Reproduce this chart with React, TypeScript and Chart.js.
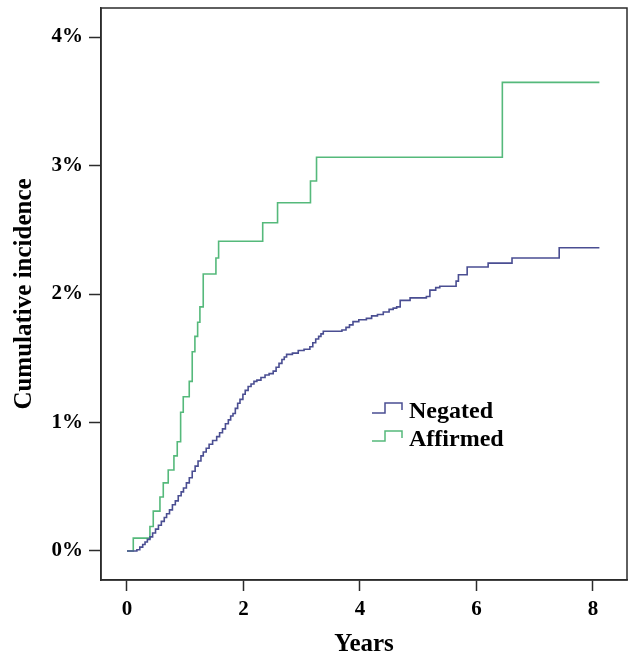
import React, { useEffect, useRef } from "react";
import { Chart, registerables } from "chart.js";

Chart.register(...registerables);

const negatedYears = [0, 0.17, 0.22, 0.27, 0.31, 0.35, 0.395, 0.44, 0.49, 0.54, 0.59, 0.64, 0.68, 0.73, 0.78, 0.83, 0.88, 0.93, 0.97, 1.02, 1.07, 1.12, 1.17, 1.22, 1.27, 1.31, 1.36, 1.41, 1.47, 1.54, 1.59, 1.64, 1.69, 1.74, 1.78, 1.82, 1.86, 1.9, 1.94, 1.99, 2.03, 2.08, 2.13, 2.18, 2.23, 2.3, 2.37, 2.44, 2.51, 2.56, 2.61, 2.66, 2.7, 2.74, 2.84, 2.94, 3.04, 3.14, 3.19, 3.24, 3.29, 3.33, 3.37, 3.69, 3.76, 3.82, 3.88, 3.98, 4.11, 4.2, 4.3, 4.4, 4.5, 4.57, 4.63, 4.69, 4.86, 5.14, 5.2, 5.3, 5.37, 5.65, 5.69, 5.84, 6.2, 6.61, 7.42, 8.11];
const negatedIncidence = [0, 0.01, 0.03, 0.05, 0.07, 0.09, 0.11, 0.14, 0.17, 0.2, 0.23, 0.26, 0.29, 0.32, 0.36, 0.39, 0.43, 0.46, 0.49, 0.53, 0.57, 0.62, 0.66, 0.7, 0.74, 0.77, 0.8, 0.83, 0.86, 0.89, 0.92, 0.95, 0.99, 1.02, 1.05, 1.07, 1.11, 1.15, 1.18, 1.22, 1.25, 1.28, 1.3, 1.32, 1.33, 1.35, 1.37, 1.38, 1.4, 1.43, 1.46, 1.49, 1.51, 1.53, 1.54, 1.56, 1.57, 1.59, 1.62, 1.65, 1.67, 1.69, 1.71, 1.72, 1.74, 1.76, 1.785, 1.8, 1.81, 1.83, 1.84, 1.86, 1.88, 1.89, 1.9, 1.95, 1.97, 1.98, 2.03, 2.05, 2.06, 2.1, 2.15, 2.21, 2.24, 2.28, 2.36, 2.36];

const affirmedYears = [0, 0.108, 0.394, 0.451, 0.566, 0.623, 0.708, 0.806, 0.863, 0.921, 0.966, 1.069, 1.12, 1.166, 1.213, 1.252, 1.309, 1.527, 1.573, 2.33, 2.585, 3.15, 3.254, 6.444, 8.11];
const affirmedIncidence = [0, 0.1, 0.19, 0.31, 0.42, 0.53, 0.63, 0.74, 0.85, 1.08, 1.2, 1.32, 1.55, 1.67, 1.78, 1.9, 2.156, 2.28, 2.41, 2.555, 2.71, 2.88, 3.064, 3.647, 3.647];

const seriesNames = ["Negated", "Affirmed"];
const seriesColors = ["#4a4e92", "#55b97b"];
const xTicks = [0, 2, 4, 6, 8];
const yTicks = [0, 1, 2, 3, 4];

const FONT = "'Liberation Serif', 'Times New Roman', serif";
const AXIS_COLOR = "#2b2b2b";

const framePlugin = {
  id: "frame",
  afterDraw(chart: any) {
    const { ctx, chartArea } = chart;
    ctx.save();
    ctx.strokeStyle = AXIS_COLOR;
    ctx.lineWidth = 1.5;
    ctx.strokeRect(chartArea.left, chartArea.top, chartArea.right - chartArea.left, chartArea.bottom - chartArea.top);
    // legend with step icons
    const lx = 372;
    const rows = [413, 441];
    ctx.font = `bold 24px ${FONT}`;
    ctx.textBaseline = "alphabetic";
    ctx.textAlign = "left";
    rows.forEach((y, i) => {
      ctx.strokeStyle = seriesColors[i];
      ctx.lineWidth = 1.5;
      ctx.beginPath();
      ctx.moveTo(lx, y);
      ctx.lineTo(lx + 13, y);
      ctx.lineTo(lx + 13, y - 10);
      ctx.lineTo(lx + 30, y - 10);
      ctx.lineTo(lx + 30, y - 3);
      ctx.stroke();
      ctx.fillStyle = "#000";
      ctx.fillText(seriesNames[i], lx + 37, y + 5);
    });
    ctx.restore();
  },
};

export default function App() {
  const ref = useRef<HTMLCanvasElement | null>(null);
  useEffect(() => {
    if (!ref.current) return;
    const chart = new Chart(ref.current, {
      type: "line",
      data: {
        datasets: [
          {
            label: seriesNames[0],
            data: negatedYears.map((x, i) => ({ x, y: negatedIncidence[i] })),
            borderColor: seriesColors[0],
            borderWidth: 1.6,
            pointRadius: 0,
            stepped: "before",
            fill: false,
          },
          {
            label: seriesNames[1],
            data: affirmedYears.map((x, i) => ({ x, y: affirmedIncidence[i] })),
            borderColor: seriesColors[1],
            borderWidth: 1.6,
            pointRadius: 0,
            stepped: "before",
            fill: false,
          },
        ],
      },
      options: {
        animation: false,
        responsive: false,
        devicePixelRatio: 1,
        layout: { padding: { top: 8, right: 4, left: 0, bottom: 0 } },
        plugins: { legend: { display: false }, tooltip: { enabled: false } },
        scales: {
          x: {
            type: "linear",
            min: -0.446,
            max: 8.584,
            afterBuildTicks: (s: any) => {
              s.ticks = xTicks.map((v) => ({ value: v }));
            },
            afterFit: (s: any) => {
              s.height = 80;
              s.paddingLeft = 0;
              s.paddingRight = 0;
            },
            grid: { drawOnChartArea: false, drawTicks: true, tickLength: 11, tickColor: AXIS_COLOR, tickWidth: 1.5 },
            border: { display: true, color: AXIS_COLOR, width: 1.5 },
            ticks: {
              color: "#000",
              padding: 6,
              font: { family: FONT, size: 21, weight: "bold" },
              callback: (v: any) => String(v),
              maxRotation: 0,
            },
            title: {
              display: true,
              text: "Years",
              color: "#000",
              font: { family: FONT, size: 25, weight: "bold" },
              padding: { top: 0, bottom: 0 },
            },
          },
          y: {
            type: "linear",
            min: -0.226,
            max: 4.226,
            afterBuildTicks: (s: any) => {
              s.ticks = yTicks.map((v) => ({ value: v }));
            },
            afterFit: (s: any) => {
              s.width = 101;
              s.paddingTop = 0;
              s.paddingBottom = 0;
            },
            grid: { drawOnChartArea: false, drawTicks: true, tickLength: 12, tickColor: AXIS_COLOR, tickWidth: 1.5 },
            border: { display: true, color: AXIS_COLOR, width: 1.5 },
            ticks: {
              color: "#000",
              padding: 6,
              font: { family: FONT, size: 21, weight: "bold" },
              callback: (v: any) => `${v}%`,
            },
            title: {
              display: true,
              text: "Cumulative incidence",
              color: "#000",
              font: { family: FONT, size: 25, weight: "bold" },
              padding: { top: 10, bottom: 0 },
            },
          },
        },
      },
      plugins: [framePlugin],
    } as any);
    return () => chart.destroy();
  }, []);
  return (
    <div style={{ position: "fixed", left: 0, top: 0, width: 631, height: 660, background: "#fff" }}>
      <canvas ref={ref} width={631} height={660} style={{ width: 631, height: 660, display: "block" }} />
    </div>
  );
}
